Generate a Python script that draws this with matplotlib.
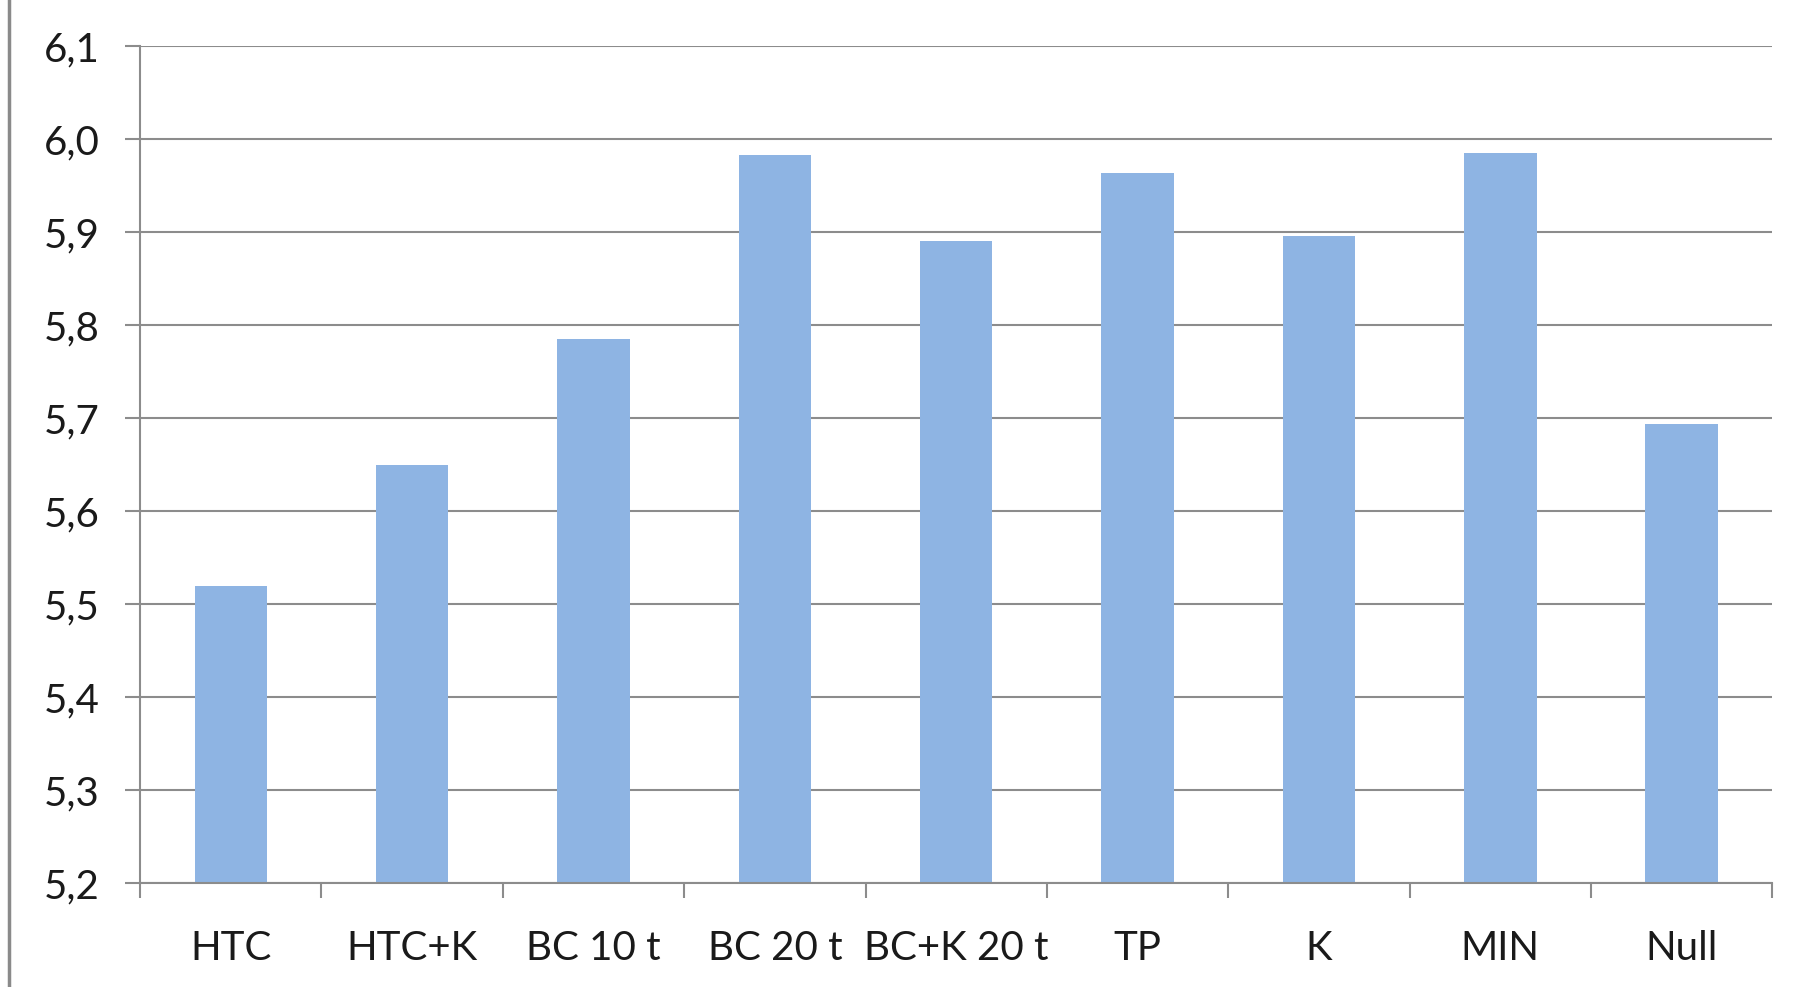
import matplotlib
matplotlib.use("Agg")
import matplotlib.pyplot as plt
from matplotlib.lines import Line2D
import numpy as np

# Treatments and measured values
categories = ["HTC", "HTC+K", "BC 10 t", "BC 20 t", "BC+K 20 t", "TP", "K", "MIN", "Null"]
values = [5.52, 5.65, 5.785, 5.983, 5.89, 5.963, 5.895, 5.985, 5.693]
yticks = [5.2, 5.3, 5.4, 5.5, 5.6, 5.7, 5.8, 5.9, 6.0, 6.1]
ytick_labels = ["5,2", "5,3", "5,4", "5,5", "5,6", "5,7", "5,8", "5,9", "6,0", "6,1"]

bar_color = "#8EB4E3"
line_color = "#8C8C8C"

plt.rcParams["font.family"] = ["Lato", "DejaVu Sans"]

fig = plt.figure(figsize=(17.984, 9.874), dpi=100)
ax = fig.add_axes([0.0779, 0.1049, 0.9076, 0.8485])

x = np.arange(len(categories))
ax.bar(x, np.array(values) - 5.2, bottom=5.2, width=0.4, color=bar_color, zorder=3)

ax.set_xlim(-0.5, len(categories) - 0.5)
ax.set_ylim(5.2, 6.1)

ax.set_yticks(yticks)
ax.set_yticklabels(ytick_labels)
ax.yaxis.grid(True, color=line_color, linewidth=1.5, zorder=0)

# category labels centred, ticks on the boundaries
ax.set_xticks(x)
ax.set_xticklabels(categories)
ax.set_xticks(np.arange(-0.5, len(categories)), minor=True)
ax.tick_params(axis="x", which="major", length=0, pad=33, labelsize=29, labelcolor="#1a1a1a")
ax.tick_params(axis="x", which="minor", length=11, width=1.5, color=line_color, direction="out")
ax.tick_params(axis="y", length=11, width=1.5, color=line_color, pad=18, labelsize=29, labelcolor="#1a1a1a")

for side in ["top", "right"]:
    ax.spines[side].set_visible(False)
for side in ["left", "bottom"]:
    ax.spines[side].set_color(line_color)
    ax.spines[side].set_linewidth(1.5)
    ax.spines[side].set_zorder(4)

# frame edge on the far left
fig.add_artist(Line2D([0.005, 0.005], [0, 1], color="#8a8a8a", linewidth=2.5, transform=fig.transFigure))

fig.savefig("out.png", dpi=100, facecolor="white")
